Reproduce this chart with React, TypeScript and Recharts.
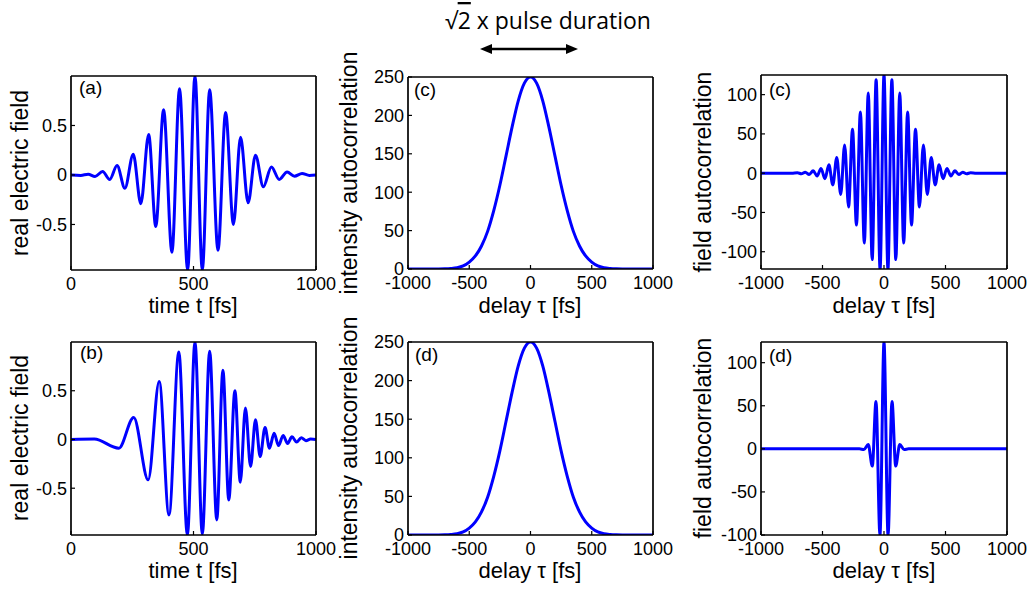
import React from 'react';
import { LineChart, Line, XAxis, YAxis } from 'recharts';

// ---------- data ----------
// (a) real electric field, transform-limited pulse
const timeA = [0, 40, 70, 98, 129, 158, 188, 220, 254, 285, 317, 346, 378, 412, 443, 476, 506, 536, 566, 600, 631, 663, 692, 723, 753, 785, 818, 850, 882, 912, 943, 973, 1000];
const fieldA = [0, -0.004, 0.008, -0.015, 0.035, -0.045, 0.095, -0.135, 0.21, -0.29, 0.41, -0.52, 0.66, -0.78, 0.87, -0.96, 1.0, -0.96, 0.86, -0.76, 0.63, -0.5, 0.38, -0.28, 0.2, -0.12, 0.08, -0.045, 0.03, -0.012, 0.015, -0.004, 0];

// (b) real electric field, chirped pulse
const timeB = [0, 95, 195, 256, 315, 360, 400, 440, 475, 506, 536, 566, 595, 620, 644, 669, 691, 712, 733, 753, 772, 792, 810, 829, 847, 866, 884, 902, 921, 940, 959, 978, 1000];
const fieldB = [0, 0.004, -0.09, 0.226, -0.414, 0.596, -0.774, 0.897, -0.98, 1.0, -0.97, 0.904, -0.825, 0.709, -0.62, 0.5, -0.438, 0.322, -0.277, 0.202, -0.175, 0.123, -0.089, 0.065, -0.062, 0.041, -0.041, 0.027, -0.027, 0.017, -0.012, 0.005, 0];

// intensity autocorrelations (c) and (d)
const delayI = [-1000, -950, -900, -850, -800, -750, -700, -650, -600, -550, -500, -450, -400, -350, -300, -250, -200, -150, -100, -50, 0, 50, 100, 150, 200, 250, 300, 350, 400, 450, 500, 550, 600, 650, 700, 750, 800, 850, 900, 950, 1000];
const intensityC = [0, 0, 0, 0, 0, 0, 0.2, 0.7, 1.7, 4, 9, 17, 30, 49, 76, 109, 147, 185, 219, 242, 250, 242, 219, 185, 147, 109, 76, 49, 30, 17, 9, 4, 1.7, 0.7, 0.2, 0, 0, 0, 0, 0, 0];
const intensityD = [0, 0, 0, 0, 0, 0, 0.2, 0.7, 1.7, 4, 9, 17, 30, 49, 76, 109, 147, 185, 219, 242, 250, 242, 219, 185, 147, 109, 76, 49, 30, 17, 9, 4, 1.7, 0.7, 0.2, 0, 0, 0, 0, 0, 0];

// field autocorrelation (c)
const delayFC = [-1000, -750, -704, -672, -640, -608, -576, -544, -512, -480, -448, -416, -384, -352, -320, -288, -256, -224, -192, -160, -128, -96, -64, -32, 0, 32, 64, 96, 128, 160, 192, 224, 256, 288, 320, 352, 384, 416, 448, 480, 512, 544, 576, 608, 640, 672, 704, 750, 1000];
const fieldCorrC = [0, 0, 0.5, -0.7, 1.3, -1.6, 3, -3.5, 6, -7, 10.6, -15, 20, -27, 36, -43, 56, -66, 78, -89, 102, -110, 119, -122, 125, -122, 119, -110, 102, -89, 78, -66, 56, -43, 36, -27, 20, -15, 10.6, -7, 6, -3.5, 3, -1.6, 1.3, -0.7, 0.5, 0, 0];

// field autocorrelation (d)
const delayFD = [-1000, -200, -163, -128, -95, -65, -33, 0, 33, 65, 95, 128, 163, 200, 1000];
const fieldCorrD = [0, 0, -0.8, 5, -20, 55, -100, 123.5, -100, 55, -20, 5, -0.8, 0, 0];

// ticks
const ticksT = [0, 500, 1000];
const ticksDelay = [-1000, -500, 0, 500, 1000];
const ticksField = [-0.5, 0, 0.5];
const ticksIntensity = [0, 50, 100, 150, 200, 250];
const ticksCorr = [-100, -50, 0, 50, 100];

const FONT = "'Liberation Sans', Arial, Helvetica, sans-serif";
const BLUE = '#0000ff';
const YW = 70;
const MT = 14;
const MR = 32;
const XH = 50;

type PanelProps = {
  left: number;
  top: number;
  w: number;
  h: number;
  xs: number[];
  ys: number[];
  xDomain: [number, number];
  xTicks: number[];
  yDomain: [number, number];
  yTicks: number[];
};

function Panel(p: PanelProps) {
  const data = p.xs.map((x, i) => ({ x, y: p.ys[i] }));
  const axisLine = { stroke: '#000', strokeWidth: 1.7 };
  const tickLine = { stroke: '#000', strokeWidth: 1.2 };
  const tickStyle = { fill: '#000', fontSize: 18, fontFamily: FONT };
  return (
    <div style={{ position: 'absolute', left: p.left - YW, top: p.top - MT - 1 }}>
      <LineChart
        width={YW + p.w + 1 + MR}
        height={MT + 1 + p.h + XH}
        data={data}
        margin={{ top: MT, right: MR, bottom: 0, left: 0 }}
      >
        <XAxis
          dataKey="x"
          type="number"
          domain={p.xDomain}
          ticks={p.xTicks}
          interval={0}
          height={XH}
          tickSize={-4}
          tickMargin={11}
          axisLine={axisLine}
          tickLine={tickLine}
          tick={tickStyle}
          allowDataOverflow
        />
        <XAxis
          xAxisId="top"
          orientation="top"
          type="number"
          domain={p.xDomain}
          ticks={p.xTicks}
          interval={0}
          height={1}
          tickSize={-4}
          axisLine={axisLine}
          tickLine={tickLine}
          tick={false}
          allowDataOverflow
        />
        <YAxis
          type="number"
          domain={p.yDomain}
          ticks={p.yTicks}
          interval={0}
          width={YW}
          tickSize={-4}
          tickMargin={8}
          axisLine={axisLine}
          tickLine={tickLine}
          tick={tickStyle}
          allowDataOverflow
        />
        <YAxis
          yAxisId="r"
          orientation="right"
          type="number"
          domain={p.yDomain}
          ticks={p.yTicks}
          interval={0}
          width={1}
          tickSize={-4}
          axisLine={axisLine}
          tickLine={tickLine}
          tick={false}
          allowDataOverflow
        />
        <Line
          dataKey="y"
          type="monotone"
          stroke={BLUE}
          strokeWidth={3}
          dot={false}
          activeDot={false}
          isAnimationActive={false}
        />
      </LineChart>
    </div>
  );
}

function YLabel({ x, y, text }: { x: number; y: number; text: string }) {
  return (
    <text
      x={x}
      y={y}
      transform={`rotate(-90 ${x} ${y})`}
      textAnchor="middle"
      fontFamily={FONT}
      fontSize={23}
      fill="#000"
    >
      {text}
    </text>
  );
}

function XLabel({ x, y, text }: { x: number; y: number; text: string }) {
  return (
    <text x={x} y={y} textAnchor="middle" fontFamily={FONT} fontSize={22} fill="#000">
      {text}
    </text>
  );
}

function PLabel({ x, y, text }: { x: number; y: number; text: string }) {
  return (
    <text x={x} y={y} fontFamily={FONT} fontSize={19} fill="#000">
      {text}
    </text>
  );
}

export default function App() {
  return (
    <div
      style={{
        position: 'absolute',
        left: 0,
        top: 0,
        width: 1032,
        height: 592,
        background: '#fff',
        overflow: 'hidden',
      }}
    >
      <Panel left={71} top={76} w={245} h={194} xs={timeA} ys={fieldA} xDomain={[0, 1000]} xTicks={ticksT} yDomain={[-0.96, 1]} yTicks={ticksField} />
      <Panel left={408} top={77} w={245} h={192} xs={delayI} ys={intensityC} xDomain={[-1000, 1000]} xTicks={ticksDelay} yDomain={[0, 250]} yTicks={ticksIntensity} />
      <Panel left={761} top={75} w={246} h={194} xs={delayFC} ys={fieldCorrC} xDomain={[-1000, 1000]} xTicks={ticksDelay} yDomain={[-122, 125]} yTicks={ticksCorr} />
      <Panel left={71} top={342} w={245} h={193} xs={timeB} ys={fieldB} xDomain={[0, 1000]} xTicks={ticksT} yDomain={[-0.98, 1]} yTicks={ticksField} />
      <Panel left={408} top={342} w={245} h={193} xs={delayI} ys={intensityD} xDomain={[-1000, 1000]} xTicks={ticksDelay} yDomain={[0, 250]} yTicks={ticksIntensity} />
      <Panel left={761} top={342} w={246} h={193} xs={delayFD} ys={fieldCorrD} xDomain={[-1000, 1000]} xTicks={ticksDelay} yDomain={[-100, 124]} yTicks={ticksCorr} />

      <svg
        width={1032}
        height={592}
        style={{ position: 'absolute', left: 0, top: 0, pointerEvents: 'none' }}
      >
        {/* title annotation */}
        <text x={548} y={29} textAnchor="middle" fontFamily="'Open Sans', 'DejaVu Sans', sans-serif" fontSize={23} fill="#000">
          √<tspan textDecoration="overline">2</tspan> x pulse duration
        </text>
        <line x1={488} y1={49} x2={570} y2={49} stroke="#000" strokeWidth={2.4} />
        <polygon points="480,49 492,44 492,54" fill="#000" />
        <polygon points="578,49 566,44 566,54" fill="#000" />

        {/* y-axis titles */}
        <YLabel x={28} y={173} text="real electric field" />
        <YLabel x={357} y={173} text="intensity autocorrelation" />
        <YLabel x={711} y={172} text="field autocorrelation" />
        <YLabel x={28} y={438} text="real electric field" />
        <YLabel x={357} y={438} text="intensity autocorrelation" />
        <YLabel x={711} y={438} text="field autocorrelation" />

        {/* x-axis titles */}
        <XLabel x={193} y={313} text="time t [fs]" />
        <XLabel x={530} y={313} text="delay τ [fs]" />
        <XLabel x={884} y={313} text="delay τ [fs]" />
        <XLabel x={193} y={578} text="time t [fs]" />
        <XLabel x={530} y={578} text="delay τ [fs]" />
        <XLabel x={884} y={578} text="delay τ [fs]" />

        {/* panel tags */}
        <PLabel x={79} y={94} text="(a)" />
        <PLabel x={414} y={96} text="(c)" />
        <PLabel x={769} y={96} text="(c)" />
        <PLabel x={80} y={359} text="(b)" />
        <PLabel x={415} y={361} text="(d)" />
        <PLabel x={769} y={362} text="(d)" />
      </svg>
    </div>
  );
}
